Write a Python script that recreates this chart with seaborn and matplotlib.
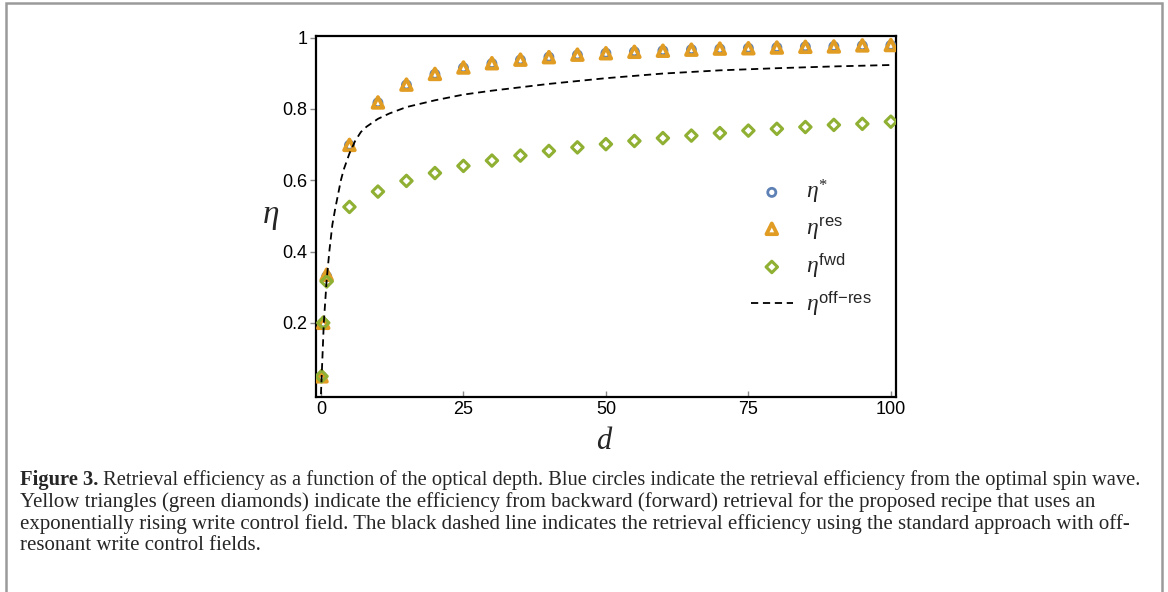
import numpy as np
import pandas as pd
import matplotlib
matplotlib.use("Agg")
import matplotlib.pyplot as plt
import matplotlib.patches as patches
import seaborn as sns

# optical depth values where the points were computed
d_points = [0.1, 0.4, 1, 5, 10, 15, 20, 25, 30, 35, 40, 45, 50,
            55, 60, 65, 70, 75, 80, 85, 90, 95, 100]

# eta* (optimal spin wave) - sits almost exactly under the triangles
eta_opt = [0.05, 0.20, 0.33, 0.698, 0.817, 0.867, 0.897, 0.915, 0.927, 0.937,
           0.945, 0.951, 0.956, 0.960, 0.963, 0.966, 0.968, 0.970, 0.972,
           0.974, 0.975, 0.977, 0.978]
# eta res (backward retrieval)
eta_res = [0.05, 0.20, 0.335, 0.699, 0.818, 0.868, 0.898, 0.916, 0.928, 0.938,
           0.945, 0.952, 0.956, 0.960, 0.963, 0.966, 0.969, 0.970, 0.972,
           0.974, 0.975, 0.978, 0.979]
# eta fwd (forward retrieval)
eta_fwd = [0.05, 0.20, 0.316, 0.525, 0.568, 0.598, 0.620, 0.640, 0.655, 0.669,
           0.682, 0.692, 0.701, 0.710, 0.718, 0.725, 0.732, 0.739, 0.744,
           0.749, 0.755, 0.758, 0.764]

# off-resonant curve
d_curve = [0, 0.5, 1, 1.5, 2, 2.5, 3, 3.5, 4, 5, 6, 7, 8, 10, 12, 15, 20,
           25, 30, 40, 50, 60, 70, 80, 90, 100]
eta_offres = [0.0, 0.20, 0.32, 0.405, 0.475, 0.52, 0.56, 0.60, 0.63, 0.675,
              0.71, 0.735, 0.75, 0.772, 0.787, 0.805, 0.824, 0.840, 0.851,
              0.870, 0.886, 0.899, 0.908, 0.914, 0.919, 0.923]

blue = "#5E81B5"
orange = "#E19C24"
green = "#8FB032"

sns.set_style("white")
plt.rcParams["font.family"] = ["Liberation Sans", "DejaVu Sans"]
plt.rcParams["mathtext.fontset"] = "custom"
plt.rcParams["mathtext.rm"] = "Liberation Serif"
plt.rcParams["mathtext.it"] = "Liberation Serif:italic"
plt.rcParams["mathtext.sf"] = "Liberation Sans"

fig = plt.figure(figsize=(11.68, 5.92), dpi=100)
ax = fig.add_axes([0.2705, 0.3294, 0.4966, 0.609])

pts = pd.DataFrame({"d": d_points, "opt": eta_opt, "res": eta_res, "fwd": eta_fwd})
curve = pd.DataFrame({"d": d_curve, "eta": eta_offres})

sns.scatterplot(data=pts, x="d", y="opt", marker="o", s=34, color=blue,
                facecolors="none", edgecolors=blue, linewidth=2.0,
                label=r"$\eta^{*}$", ax=ax, zorder=3)
sns.scatterplot(data=pts, x="d", y="res", marker="^", s=60, color=orange,
                facecolors="none", edgecolors=orange, linewidth=2.7,
                label=r"$\eta^{\mathsf{res}}$", ax=ax, zorder=4)
sns.scatterplot(data=pts, x="d", y="fwd", marker="D", s=34, color=green,
                facecolors="none", edgecolors=green, linewidth=2.2,
                label=r"$\eta^{\mathsf{fwd}}$", ax=ax, zorder=5)
sns.lineplot(data=curve, x="d", y="eta", color="black", linewidth=1.3,
             linestyle=(0, (4, 2.6)), label=r"$\eta^{\mathsf{off\!-\!res}}$",
             ax=ax, zorder=6)

ax.set_xlim(-0.88, 100.9)
ax.set_ylim(-0.008, 1.003)
ax.set_xticks([0, 25, 50, 75, 100])
ax.set_yticks([0.2, 0.4, 0.6, 0.8, 1.0])
ax.set_yticklabels(["0.2", "0.4", "0.6", "0.8", "1"])
ax.tick_params(axis="both", labelsize=13, colors="black", length=4,
               width=1, color="#888888")
ax.tick_params(axis="y", direction="out", pad=2)
ax.tick_params(axis="x", direction="in", pad=3)
ax.xaxis.set_ticks_position("bottom")
ax.yaxis.set_ticks_position("left")
for s in ax.spines.values():
    s.set_color("black")
    s.set_linewidth(1.6)

ax.set_xlabel(r"$d$", fontsize=22)
ax.xaxis.set_label_coords(0.498, -0.08)
ax.set_ylabel(r"$\eta$", fontsize=24, rotation=0, va="center", ha="center")
ax.yaxis.set_label_coords(-0.079, 0.5)

leg = ax.legend(loc="upper left", bbox_to_anchor=(0.733, 0.634), frameon=False,
                fontsize=17, handlelength=1.8, handletextpad=0.55,
                labelspacing=0.4, borderaxespad=0)

# caption below the chart
cap_font = ["Liberation Serif", "DejaVu Serif"]
cap_size = 15.0
cap_lines = [
    "Retrieval efficiency as a function of the optical depth. Blue circles indicate the retrieval efficiency from the optimal spin wave.",
    "Yellow triangles (green diamonds) indicate the efficiency from backward (forward) retrieval for the proposed recipe that uses an",
    "exponentially rising write control field. The black dashed line indicates the retrieval efficiency using the standard approach with off-",
    "resonant write control fields.",
]
x0 = 20 / 1168
y_lines = [480, 502, 524, 546]
t1 = fig.text(x0, 1 - y_lines[0] / 592, "Figure 3.", fontsize=14.8,
              fontweight="bold", family=cap_font, va="center")
ax.annotate(" " + cap_lines[0], xy=(1, 0), xycoords=t1, va="bottom",
            fontsize=14.8, family=cap_font, annotation_clip=False)
for yy, line in zip(y_lines[1:], cap_lines[1:]):
    fig.text(x0, 1 - yy / 592, line, fontsize=cap_size, family=cap_font, va="center")

# grey frame around the whole figure
frame = patches.Rectangle((6 / 1168, -0.02), 1156 / 1168, 1.02 - 3 / 592,
                          transform=fig.transFigure, fill=False,
                          edgecolor="#9a9a9a", linewidth=1.8)
fig.add_artist(frame)

fig.savefig("out.png", dpi=100)
